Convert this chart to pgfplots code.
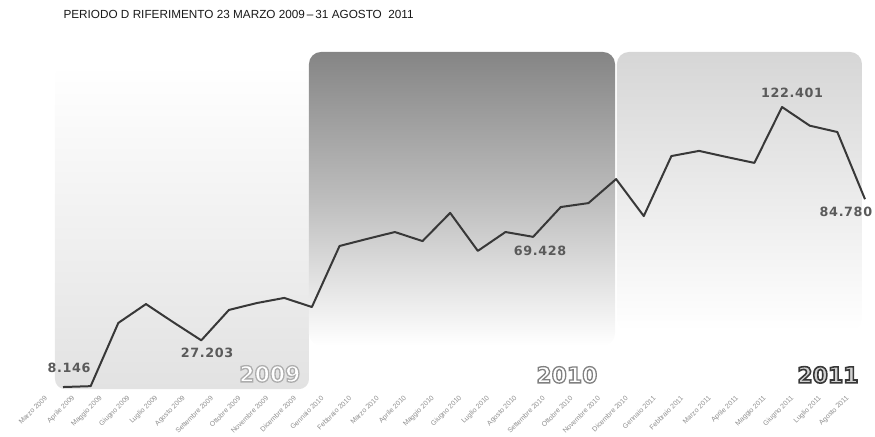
\documentclass[border=0pt]{standalone}
\usepackage{pgfplots}
\pgfplotsset{compat=1.18}
\usepackage{fontspec}
\setmainfont{Liberation Sans}
\newfontfamily\dejavu[LetterSpace=5]{DejaVu Sans}
\newfontfamily\dejavuyear{DejaVu Sans}
\definecolor{lineC}{HTML}{383838}
\definecolor{labC}{HTML}{5A5A5A}
\definecolor{tickC}{HTML}{8E8E8E}
\definecolor{p10top}{HTML}{858585}
\definecolor{p10mid}{HTML}{BDBDBD}
\definecolor{p11top}{HTML}{D6D6D6}
\definecolor{p09bot}{HTML}{E2E2E2}
\newcommand\outl[4]{\textcolor{#2}{\special{pdf:literal direct #1 G #3 w 2 Tr}#4\special{pdf:literal direct 0 Tr}}}
\begin{document}
\begin{tikzpicture}
\path[use as bounding box] (0,0) rectangle (875bp,437bp);
\clip (0,0) rectangle (875bp,437bp);
\node[anchor=west, text=black!90, font=\fontsize{11.8}{12}\selectfont] at (60bp,423bp) {PERIODO D RIFERIMENTO 23 MARZO 2009\,--\,31 AGOSTO \ 2011};
\begin{axis}[
  at={(63bp,30bp)}, anchor=south west,
  scale only axis, width=802bp, height=343.1bp,
  xmin=0, xmax=29, ymin=0, ymax=140,
  clip=false,
  axis line style={draw=none},
  major tick length=0pt,
  ytick=\empty,
  xtick={0,...,29},
  xticklabels={Marzo 2009, Aprile 2009, Maggio 2009, Giugno 2009, Luglio 2009, Agosto 2009, Settembre 2009, Ottobre 2009, Novembre 2009, Dicembre 2009, Gennaio 2010, Febbraio 2010, Marzo 2010, Aprile 2010, Maggio 2010, Giugno 2010, Luglio 2010, Agosto 2010, Settembre 2010, Ottobre 2010, Novembre 2010, Dicembre 2010, Gennaio 2011, Febbraio 2011, Marzo 2011, Aprile 2011, Maggio 2011, Giugno 2011, Luglio 2011, Agosto 2011},
  xticklabel style={xshift=-17bp, yshift=10bp, rotate=45, anchor=east, inner sep=0pt, text=tickC, font=\fontsize{7}{8}\selectfont},
]
% panels
\path[top color=white, bottom color=p09bot, rounded corners=10bp]
  (axis cs:-0.29,7.3) rectangle (axis cs:8.895,139.5);
\path[top color=p10top, bottom color=white, middle color=p10mid, rounded corners=12bp]
  (axis cs:8.895,25) rectangle (axis cs:19.96,144.86);
\path[top color=p11top, bottom color=white, rounded corners=12bp]
  (axis cs:20.03,31) rectangle (axis cs:28.89,144.86);
% years
\node[font=\dejavuyear\bfseries\fontsize{22}{22}\selectfont] at (axis cs:7.48,13.5) {\outl{0.68}{white}{1.3}{2009}};
\node[font=\dejavuyear\bfseries\fontsize{22}{22}\selectfont] at (axis cs:18.22,13.1) {\outl{0.5}{white}{1.3}{2010}};
\node[font=\dejavuyear\bfseries\fontsize{22}{22}\selectfont] at (axis cs:27.66,13.1) {\outl{0.22}{black!18}{1.6}{2011}};
% data
\addplot[color=lineC, line width=2bp, line join=round] coordinates {
(0,8.146) (1,8.5) (2,34.3) (3,42.0) (4,34.5) (5,27.203) (6,39.6) (7,42.4) (8,44.5) (9,40.8)
(10,65.7) (11,68.6) (12,71.4) (13,67.7) (14,79.2) (15,63.7) (16,71.4) (17,69.428) (18,81.6) (19,83.2) (20,93.0) (21,77.9)
(22,102.4) (23,104.5) (24,102.0) (25,99.6) (26,122.401) (27,114.8) (28,112.2) (29,84.780)
};
% value labels
\node[text=labC, font=\dejavu\bfseries\fontsize{12.8}{13}\selectfont] at (axis cs:0.22,15.9) {8.146};
\node[text=labC, font=\dejavu\bfseries\fontsize{12.8}{13}\selectfont] at (axis cs:5.21,22.0) {27.203};
\node[text=labC, font=\dejavu\bfseries\fontsize{12.8}{13}\selectfont] at (axis cs:17.25,63.65) {69.428};
\node[text=labC, font=\dejavu\bfseries\fontsize{12.8}{13}\selectfont] at (axis cs:26.36,128.1) {122.401};
\node[text=labC, font=\dejavu\bfseries\fontsize{12.8}{13}\selectfont] at (axis cs:28.31,79.6) {84.780};
\end{axis}
\end{tikzpicture}
\end{document}
